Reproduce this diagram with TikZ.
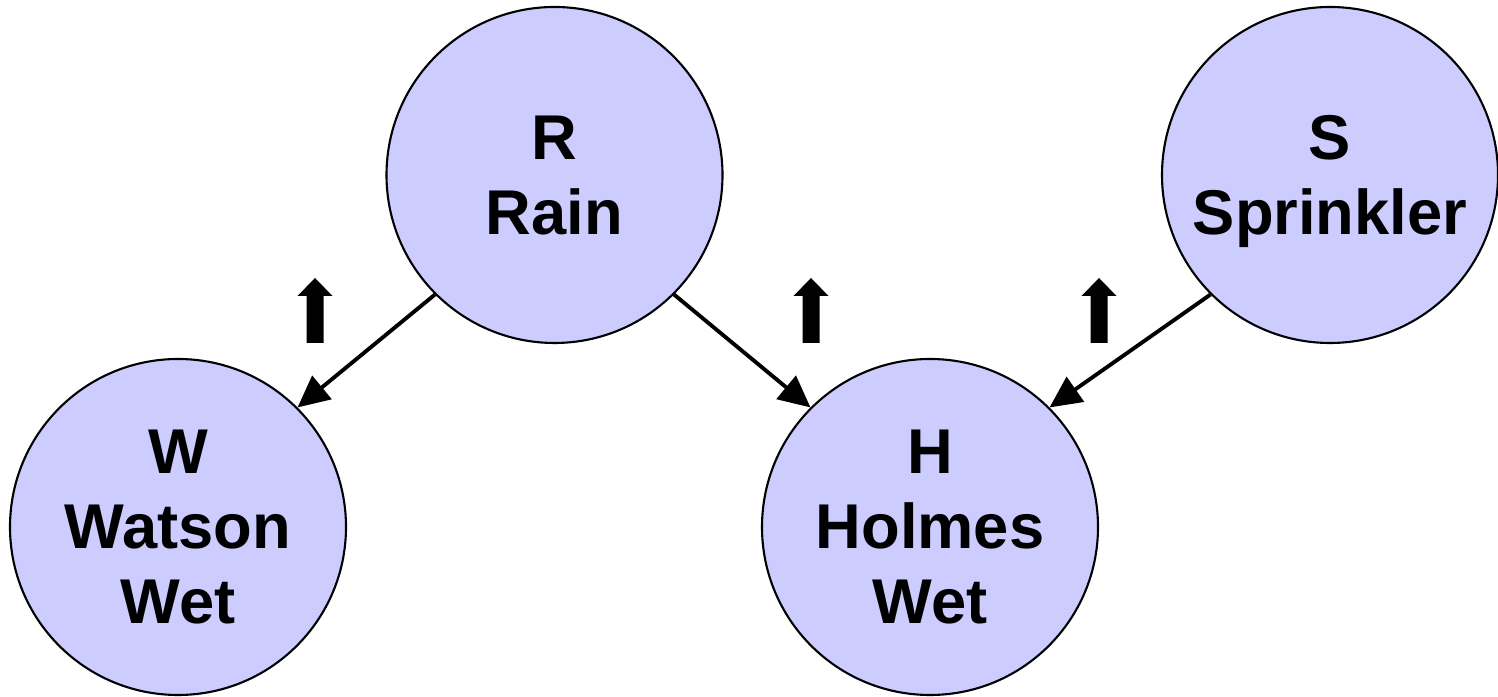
\documentclass[tikz,border=0pt]{standalone}
\usepackage{fontspec}
\setmainfont{Liberation Sans}
\usetikzlibrary{arrows.meta}

\definecolor{varfill}{RGB}{204,204,255}

\begin{document}
\begin{tikzpicture}[font=\fontsize{18}{21.3}\selectfont\bfseries,
  var/.style={circle, draw=black, line width=0.6pt, fill=varfill, minimum size=3.36cm, inner sep=0pt,
    align=center, text depth=-2pt},
  edge/.style={line width=1.1pt, -{Triangle[length=9pt, width=8.5pt]}}]

  \useasboundingbox (0,0) rectangle (14.98,-6.97);

  % variables
  \node[var] (R) at (5.545,-1.75) {R\\Rain};
  \node[var] (S) at (13.30,-1.75) {S\\Sprinkler};
  \node[var] (W) at (1.78,-5.27) {W\\Watson\\Wet};
  \node[var] (H) at (9.30,-5.27) {H\\Holmes\\Wet};

  % links
  \draw[edge] (R.225) -- (W.45);
  \draw[edge] (R.-45) -- (H.135);
  \draw[edge] (S.225) -- (H.45);

  % block arrows above the links
  \foreach \x in {3.15, 8.11, 10.99}
    \fill (\x-0.085,-3.43) -- (\x+0.085,-3.43) -- (\x+0.085,-2.96) -- (\x+0.175,-2.96)
      -- (\x,-2.78) -- (\x-0.175,-2.96) -- (\x-0.085,-2.96) -- cycle;

\end{tikzpicture}
\end{document}
